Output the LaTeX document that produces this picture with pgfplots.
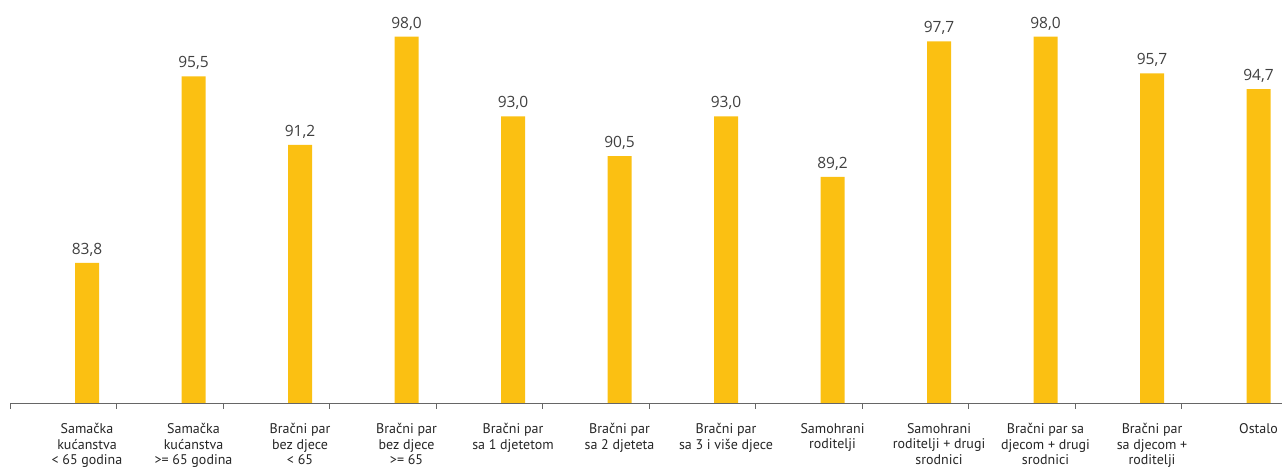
\documentclass[border=0pt]{standalone}
\usepackage{fontspec}
\setmainfont{PT Sans}
\newfontfamily\valfont{Open Sans}
\usepackage{pgfplots}
\pgfplotsset{compat=1.18}
\definecolor{baryellow}{HTML}{FBC012}
\definecolor{valgray}{HTML}{404040}
\begin{document}
\begin{tikzpicture}[x=1pt,y=1pt]
\useasboundingbox (0,0) rectangle (1282,470);
\begin{axis}[
  at={(10pt,67pt)}, anchor=south west,
  scale only axis,
  width=1272pt, height=403pt,
  xmin=-0.723, xmax=11.22,
  ymin=75, ymax=100.3,
  ybar, bar width=24pt, bar shift=0pt,
  hide y axis,
  axis x line*=bottom,
  x axis line style={-, draw=gray!80!black, line width=0.8pt},
  xtick={0,...,11},
  xtick style={draw=none},
  major tick length=0pt,
  xticklabels={
    {Samačka\\kućanstva\\< 65 godina},
    {Samačka\\kućanstva\\>= 65 godina},
    {Bračni par\\bez djece\\< 65},
    {Bračni par\\bez djece\\>= 65},
    {Bračni par\\sa 1 djetetom},
    {Bračni par\\sa 2 djeteta},
    {Bračni par\\sa 3 i više djece},
    {Samohrani\\roditelji},
    {Samohrani\\roditelji + drugi\\srodnici},
    {Bračni par sa\\djecom + drugi\\srodnici},
    {Bračni par\\sa djecom +\\roditelji},
    {Ostalo}},
  xticklabel style={align=center, font=\fontsize{14}{15.5}\selectfont, text=black!85, yshift=-17pt},
  extra x ticks={-0.723,0.277,1.277,2.277,3.277,4.277,5.277,6.277,7.277,8.277,9.277,10.277},
  extra x tick labels={},
  extra x tick style={major tick length=6pt, tick align=outside, xtick style={draw=gray!80!black, line width=0.8pt}},
  nodes near coords,
  nodes near coords style={font=\valfont\fontsize{15.5}{17}\selectfont, text=valgray, yshift=3pt},
  /pgf/number format/.cd, fixed, fixed zerofill, precision=1, use comma, assume math mode=true,
]
\addplot[fill=baryellow, draw=none] coordinates {
  (0,83.8) (1,95.5) (2,91.2) (3,98.0) (4,93.0) (5,90.5)
  (6,93.0) (7,89.2) (8,97.7) (9,98.0) (10,95.7) (11,94.7)
};
\end{axis}
\end{tikzpicture}
\end{document}
